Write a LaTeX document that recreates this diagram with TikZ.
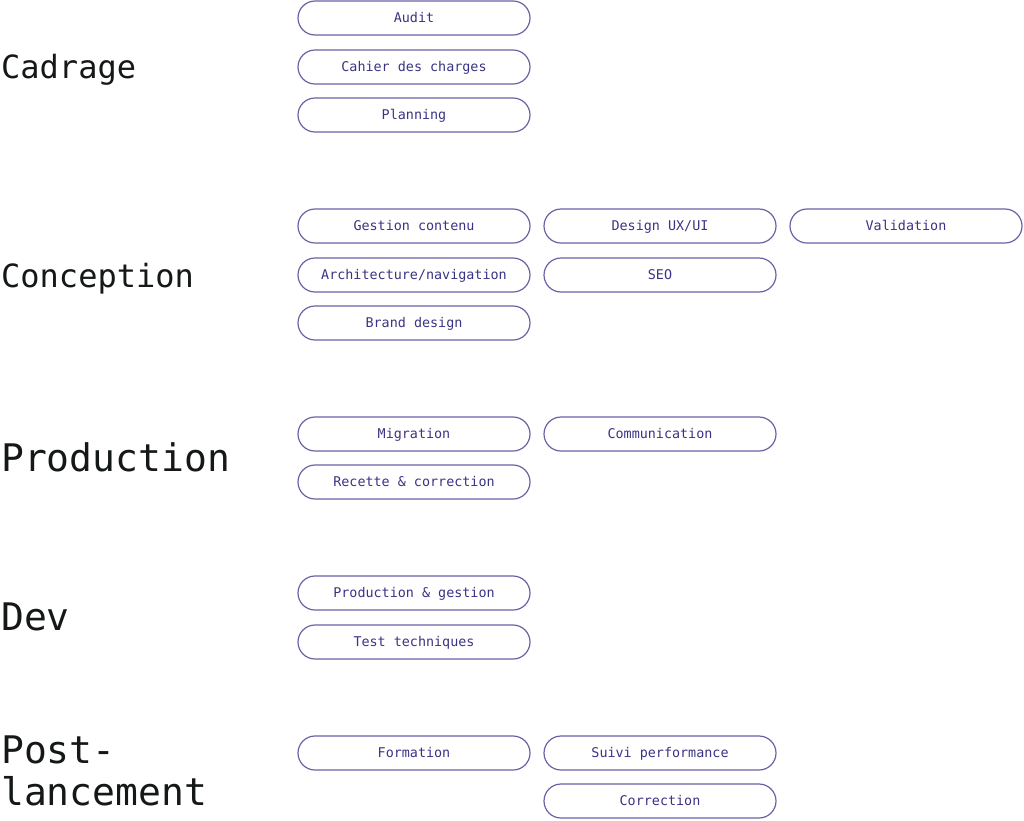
\documentclass[tikz,border=0pt]{standalone}
\usepackage{fontspec}
\setmonofont{DejaVu Sans Mono}
\usetikzlibrary{shapes.misc}
\definecolor{pillline}{HTML}{6B5FA6}
\definecolor{pilltext}{HTML}{3A3384}
\definecolor{headtext}{HTML}{141816}
\tikzset{
  pill/.style={rounded rectangle, draw=pillline, line width=1.2pt, minimum width=232pt, minimum height=34pt, inner sep=0pt, text height=9.7pt, text depth=0pt, text=pilltext, font=\ttfamily\fontsize{13.4}{14}\selectfont},
  headsmall/.style={anchor=base west, inner sep=0pt, text=headtext, font=\ttfamily\fontsize{32}{38}\selectfont},
  headbig/.style={anchor=base west, inner sep=0pt, text=headtext, font=\ttfamily\fontsize{38}{42}\selectfont, align=left},
}
\begin{document}
\begin{tikzpicture}[x=1pt,y=-1pt]
\useasboundingbox (0,0) rectangle (1024,820);
% headings
\node[headsmall] (h1) at (1,78) {Cadrage};
\node[headsmall] (h2) at (1,287) {Conception};
\node[headbig] (h3) at (1,471) {Production};
\node[headbig] (h4) at (1,630) {Dev};
\node[headbig] (h5a) at (1,763) {Post-};
\node[headbig] (h5b) at (1,805) {lancement};
% Cadrage
\node[pill] (a1) at (414,18) {Audit};
\node[pill] (a2) at (414,67) {Cahier des charges};
\node[pill] (a3) at (414,115) {Planning};
% Conception
\node[pill] (b1) at (414,226) {Gestion contenu};
\node[pill] (b2) at (660,226) {Design UX/UI};
\node[pill] (b3) at (906,226) {Validation};
\node[pill] (b4) at (414,275) {Architecture/navigation};
\node[pill] (b5) at (660,275) {SEO};
\node[pill] (b6) at (414,323) {Brand design};
% Production
\node[pill] (c1) at (414,434) {Migration};
\node[pill] (c2) at (660,434) {Communication};
\node[pill] (c3) at (414,482) {Recette \& correction};
% Dev
\node[pill] (d1) at (414,593) {Production \& gestion};
\node[pill] (d2) at (414,642) {Test techniques};
% Post-lancement
\node[pill] (e1) at (414,753) {Formation};
\node[pill] (e2) at (660,753) {Suivi performance};
\node[pill] (e3) at (660,801) {Correction};
\end{tikzpicture}
\end{document}
